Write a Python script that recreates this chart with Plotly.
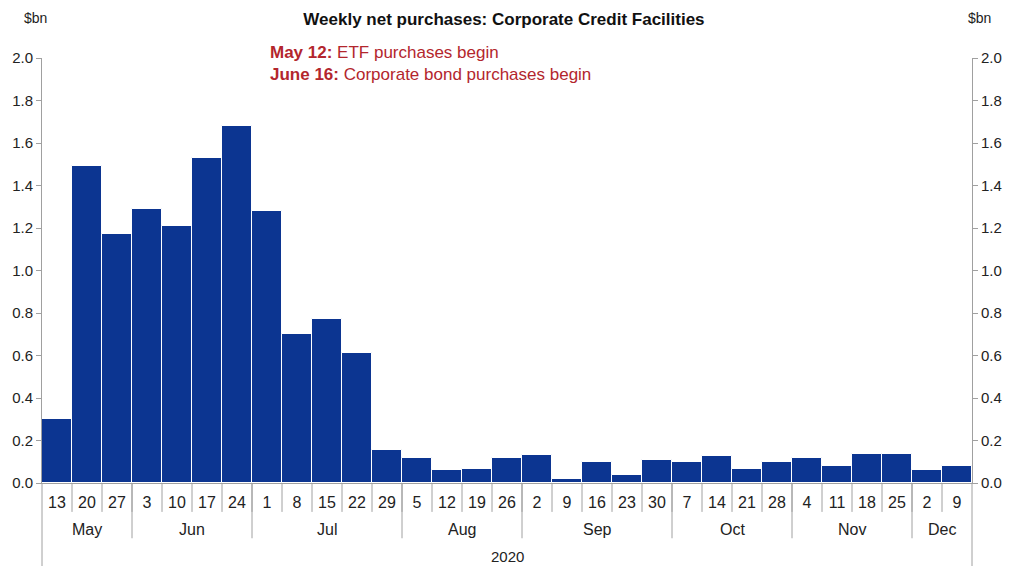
import plotly.graph_objects as go

months = ["May", "May", "May", "Jun", "Jun", "Jun", "Jun", "Jul", "Jul", "Jul", "Jul", "Jul",
          "Aug", "Aug", "Aug", "Aug", "Sep", "Sep", "Sep", "Sep", "Sep",
          "Oct", "Oct", "Oct", "Oct", "Nov", "Nov", "Nov", "Nov", "Dec", "Dec"]
days = ["13", "20", "27", "3", "10", "17", "24", "1", "8", "15", "22", "29",
        "5", "12", "19", "26", "2", "9", "16", "23", "30",
        "7", "14", "21", "28", "4", "11", "18", "25", "2", "9"]
values = [0.30, 1.49, 1.17, 1.29, 1.21, 1.53, 1.68, 1.28, 0.70, 0.77, 0.61, 0.155,
          0.12, 0.06, 0.065, 0.12, 0.13, 0.02, 0.10, 0.04, 0.11,
          0.10, 0.125, 0.065, 0.10, 0.12, 0.08, 0.135, 0.135, 0.06, 0.08]
year_label = "2020"
y_ticks = [0.0, 0.2, 0.4, 0.6, 0.8, 1.0, 1.2, 1.4, 1.6, 1.8, 2.0]

idx = list(range(len(values)))
BAR = "#0c3591"
GRID = "#a0a0a0"
TXT = "#222222"
RED = "#b3262d"

fig = go.Figure()
fig.add_trace(go.Bar(x=idx, y=values, marker=dict(color=BAR, line=dict(color="white", width=1)),
                     hoverinfo="y"))
fig.add_trace(go.Scatter(x=[idx[0]], y=[0], yaxis="y2", mode="markers",
                         marker=dict(opacity=0), hoverinfo="skip", showlegend=False))

shapes = []
# day separators
for i in range(1, len(idx)):
    shapes.append(dict(type="line", xref="x", yref="paper", x0=i - 0.5, x1=i - 0.5,
                       y0=0, y1=-0.068, line=dict(color=GRID, width=1)))
# month separators
for i in range(1, len(idx)):
    if months[i] != months[i - 1]:
        shapes.append(dict(type="line", xref="x", yref="paper", x0=i - 0.5, x1=i - 0.5,
                           y0=0, y1=-0.13, line=dict(color=GRID, width=1)))
# edges
for xp in (0, 1):
    shapes.append(dict(type="line", xref="paper", yref="paper", x0=xp, x1=xp,
                       y0=0, y1=-0.2, line=dict(color=GRID, width=1)))

annotations = []
seen = []
for m in months:
    if m not in seen:
        seen.append(m)
for m in seen:
    ii = [i for i, mm in enumerate(months) if mm == m]
    annotations.append(dict(x=sum(ii) / len(ii), y=-0.11, xref="x", yref="paper",
                            yanchor="middle", text=m, showarrow=False,
                            font=dict(size=16, color=TXT)))
annotations.append(dict(x=0.5, y=-0.172, xref="paper", yref="paper", yanchor="middle",
                        text=year_label, showarrow=False, font=dict(size=15, color=TXT)))
annotations.append(dict(x=0.243, y=1.012, xref="paper", yref="paper", xanchor="left", yanchor="middle",
                        text="<b>May 12:</b> ETF purchases begin", showarrow=False,
                        font=dict(size=17, color=RED)))
annotations.append(dict(x=0.243, y=0.962, xref="paper", yref="paper", xanchor="left", yanchor="middle",
                        text="<b>June 16:</b> Corporate bond purchases begin", showarrow=False,
                        font=dict(size=17, color=RED)))
annotations.append(dict(x=-0.021, y=1.094, xref="paper", yref="paper", yanchor="middle",
                        text="$bn", showarrow=False, font=dict(size=14, color=TXT)))
annotations.append(dict(x=1.023, y=1.094, xref="paper", yref="paper", yanchor="middle",
                        text="$bn", showarrow=False, font=dict(size=14, color=TXT)))

fig.update_layout(
    width=1014, height=566,
    margin=dict(l=42, r=42, t=58, b=83),
    paper_bgcolor="white", plot_bgcolor="white",
    font=dict(family="Liberation Sans, Arial, sans-serif", color=TXT, size=14),
    bargap=0, showlegend=False,
    title=dict(text="<b>Weekly net purchases: Corporate Credit Facilities</b>",
               x=0.497, xanchor="center", y=0.966, yanchor="middle",
               font=dict(size=17, color="#111111")),
    xaxis=dict(range=[-0.5, len(idx) - 0.5], tickvals=idx, ticktext=days,
               showline=True, linecolor=GRID, ticks="outside", ticklen=5, tickcolor="rgba(0,0,0,0)",
               showgrid=False, zeroline=False, tickfont=dict(size=16, color=TXT)),
    yaxis=dict(range=[0, 2.0], tickvals=y_ticks, tickformat=".1f", showline=True,
               linecolor=GRID, ticks="outside", ticklen=5, tickcolor=GRID, showgrid=False,
               zeroline=False, tickfont=dict(size=15, color=TXT)),
    yaxis2=dict(range=[0, 2.0], tickvals=y_ticks, tickformat=".1f", showline=True,
                linecolor=GRID, ticks="outside", ticklen=5, tickcolor=GRID, showgrid=False,
                zeroline=False, overlaying="y", side="right", tickfont=dict(size=15, color=TXT)),
    shapes=shapes,
    annotations=annotations,
)
fig.write_html("out.html")
